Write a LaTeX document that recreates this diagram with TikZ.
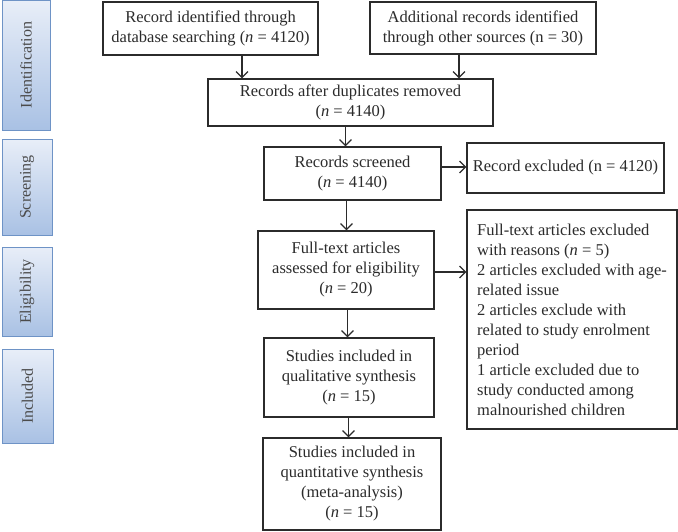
\documentclass[tikz,border=0pt]{standalone}
\usepackage{fontspec}
\setmainfont{Liberation Serif}
\usetikzlibrary{arrows.meta}
\definecolor{ink}{HTML}{2B2B2B}
\definecolor{sidetop}{HTML}{E8EEF8}
\definecolor{sidebot}{HTML}{A9C1E4}
\definecolor{sideline}{HTML}{6E93C6}
\tikzset{
  box/.style={draw=ink, line width=1.2pt, fill=white, inner sep=2pt, align=center, text=ink, font=\fontsize{16.5}{20}\selectfont},
  side/.style={draw=sideline, line width=1pt, top color=sidetop, bottom color=sidebot, inner sep=0pt},
  sidetext/.style={rotate=90, text=ink!85, font=\fontsize{16}{18}\selectfont, inner sep=0pt},
  arr/.style={draw=ink, line width=1.2pt, -{Straight Barb[length=6pt,width=12pt,line width=1.2pt]}}
}
\begin{document}
\begin{tikzpicture}[x=1pt,y=1pt]
\useasboundingbox (0,0) rectangle (678,-531);
% side labels
\node[side, minimum height=130, minimum width=48] (sid) at (26,-65) {};
\node[sidetext] (tid) at (sid.center) {Identification};
\node[side, minimum height=96, minimum width=50] (ssc) at (27,-187) {};
\node[sidetext] (tsc) at (ssc.center) {Screening};
\node[side, minimum height=89, minimum width=50] (sel) at (27,-291.5) {};
\node[sidetext] (tel) at (sel.center) {Eligibility};
\node[side, minimum height=94, minimum width=51] (sin) at (27.5,-396) {};
\node[sidetext] (tin) at (sin.center) {Included};
% boxes
\node[box, minimum width=215, minimum height=53] (b1) at (210.5,-28.5) {Record identified through\\database searching (\textit{n} = 4120)};
\node[box, minimum width=226, minimum height=52] (b2) at (483,-28) {Additional records identified\\through other sources (n = 30)};
\node[box, minimum width=285, minimum height=47] (b3) at (350.5,-102.5) {Records after duplicates removed\\(\textit{n} = 4140)};
\node[box, minimum width=177, minimum height=53] (b4) at (352.5,-173.5) {Records screened\\(\textit{n} = 4140)};
\node[box, minimum width=197, minimum height=50] (b5) at (565.5,-168) {Record excluded (n = 4120)};
\node[box, minimum width=176, minimum height=78] (b6) at (346,-270) {Full-text articles\\assessed for eligibility\\(\textit{n} = 20)};
\node[box, align=left, minimum width=210, minimum height=219] (b7) at (572,-319.5) {Full-text articles excluded\\with reasons (\textit{n} = 5)\\2 articles excluded with age-\\related issue\\2 articles exclude with\\related to study enrolment\\period\\1 article excluded due to\\study conducted among\\malnourished children};
\node[box, minimum width=170, minimum height=79] (b8) at (349,-377.5) {Studies included in\\qualitative synthesis\\(\textit{n} = 15)};
\node[box, minimum width=178, minimum height=92] (b9) at (352,-484) {Studies included in\\quantitative synthesis\\(meta-analysis)\\(\textit{n} = 15)};
% connector coordinates
\coordinate (c1) at (242,0);
\coordinate (c2) at (459,0);
\coordinate (c3) at (345.5,0);
\coordinate (c4) at (0,-167);
\coordinate (c5) at (346.5,0);
\coordinate (c6) at (0,-272);
\coordinate (c7) at (347.5,0);
\coordinate (c8) at (348.5,0);
\draw[arr] (b1.south -| c1) -- (b3.north -| c1);
\draw[arr] (b2.south -| c2) -- (b3.north -| c2);
\draw[arr] (b3.south -| c3) -- (b4.north -| c3);
\draw[arr] (b4.east |- c4) -- (b5.west |- c4);
\draw[arr] (b4.south -| c5) -- (b6.north -| c5);
\draw[arr] (b6.east |- c6) -- (b7.west |- c6);
\draw[arr] (b6.south -| c7) -- (b8.north -| c7);
\draw[arr] (b8.south -| c8) -- (b9.north -| c8);
\end{tikzpicture}
\end{document}
